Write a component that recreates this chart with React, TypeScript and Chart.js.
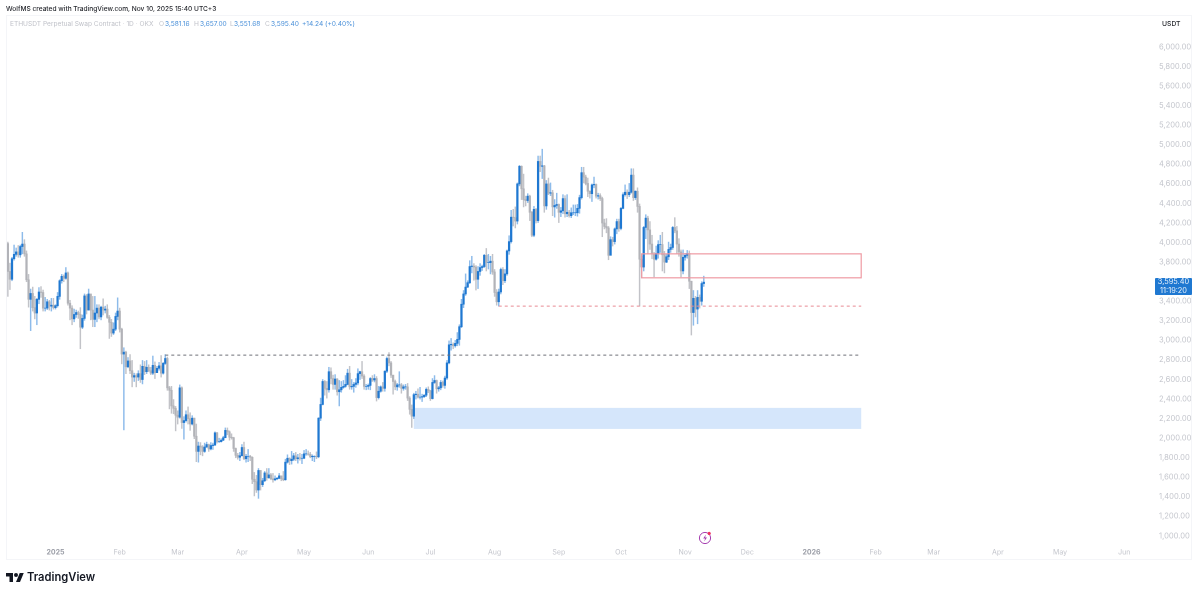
import React, { useEffect, useRef } from "react";
import { Chart, registerables } from "chart.js";

Chart.register(...registerables);

// Daily candles from 9 Dec 2024 (day -23, counted from 1 Jan 2025) to 10 Nov 2025
const firstDay = -23;
const firstOpen = 3990;
const closes = [
  3705,3625,3835,3880,3905,3875,3960,3985,3885,3620,3420,3480,3335,3280,3420,3495,3490,3330,3330,3395,3350,3360,3335,
  3355,3450,3610,3655,3635,3690,3380,3330,3220,3265,3285,3265,3135,3225,3455,3310,3475,3310,3215,3280,3330,3240,3340,3310,3320,3235,3185,3075,3115,3245,3300,
  3115,2860,2880,2730,2790,2690,2625,2640,2625,2660,2600,2735,2680,2725,2690,2665,2745,2670,2715,2740,2665,2765,2815,2515,2490,2330,2305,2235,
  2215,2515,2160,2180,2240,2200,2145,2205,2020,1865,1920,1910,1865,1910,1935,1890,1925,1930,2055,1965,1965,1980,2005,2080,2065,2010,2005,1895,1825,1805,1820,
  1905,1790,1815,1815,1805,1580,1555,1470,1670,1525,1565,1645,1595,1625,1585,1575,1585,1590,1615,1585,1575,1755,1795,1770,1785,1820,1790,1800,1795,1795,
  1840,1840,1835,1810,1815,1815,1810,2205,2345,2580,2510,2495,2680,2610,2550,2605,2475,2495,2520,2530,2550,2665,2525,2530,2550,2565,2660,2680,2635,2530,2530,
  2540,2610,2595,2610,2415,2480,2525,2510,2685,2815,2770,2645,2580,2525,2545,2545,2510,2525,2525,2410,2295,2225,2445,2450,2420,2420,2425,2440,2500,2485,
  2405,2570,2590,2505,2515,2570,2540,2615,2770,2955,2960,2945,2970,3010,3140,3370,3475,3545,3590,3755,3760,3750,3625,3705,3745,3755,3870,3795,3795,3810,3700,
  3490,3395,3495,3725,3610,3680,3915,4010,4260,4255,4220,4600,4780,4550,4440,4430,4475,4310,4075,4340,4225,4830,4780,4785,4375,4600,4505,4510,4365,4380,4390,
  4310,4325,4450,4295,4310,4275,4305,4305,4305,4350,4460,4715,4670,4605,4525,4500,4590,4595,4475,4480,4450,4200,4165,4150,3870,4030,4010,4140,4215,4145,
  4350,4490,4515,4490,4515,4690,4460,4525,4370,3830,3750,4155,4250,4130,3985,3885,3830,3890,3980,3980,3875,3800,3855,3930,3950,4155,4120,3985,3905,3710,3850,
  3870,3890,3605,3285,3430,3320,3440,3400,3581.16,3595.4,
];
const highs = [
  4005,3790,3850,3975,3945,3970,3975,4105,4030,3915,3675,3525,3545,3450,3430,3540,3550,3515,3440,3420,3410,3430,3430,
  3365,3490,3620,3675,3670,3745,3700,3410,3355,3320,3310,3300,3335,3260,3475,3470,3525,3450,3450,3450,3365,3365,3350,3425,3350,3365,3255,3215,3180,3280,3435,
  3330,3125,2925,2890,2825,2855,2795,2665,2660,2690,2750,2795,2785,2795,2750,2725,2840,2780,2735,2775,2845,2775,2855,2830,2530,2530,2395,2325,
  2280,2545,2525,2220,2280,2320,2260,2230,2205,2145,1960,1955,1925,1950,1960,1940,1955,1950,2065,2060,2000,1995,2020,2105,2105,2075,2045,2010,1900,1845,1855,
  1935,1960,1835,1885,1825,1810,1650,1620,1690,1670,1590,1660,1690,1690,1640,1640,1615,1600,1640,1615,1660,1785,1830,1800,1865,1845,1855,1835,1845,1835,
  1875,1885,1870,1855,1830,1820,1860,2210,2410,2600,2590,2580,2725,2720,2645,2650,2610,2590,2580,2590,2640,2705,2735,2600,2570,2610,2710,2685,2785,2650,2550,
  2555,2620,2640,2650,2630,2530,2535,2570,2690,2830,2875,2785,2620,2595,2560,2680,2560,2545,2550,2560,2425,2340,2460,2480,2505,2520,2450,2445,2515,2525,
  2490,2610,2640,2595,2530,2590,2585,2635,2795,2995,3020,2975,3000,3080,3160,3420,3510,3680,3610,3815,3860,3785,3765,3755,3785,3770,3880,3940,3880,3860,3880,
  3725,3520,3525,3740,3745,3725,3925,4070,4330,4340,4365,4610,4790,4785,4700,4475,4500,4485,4320,4370,4350,4885,4885,4955,4790,4635,4660,4610,4535,4440,4505,
  4395,4360,4490,4480,4490,4330,4355,4385,4385,4390,4485,4770,4770,4690,4660,4530,4600,4670,4600,4505,4500,4465,4240,4245,4165,4060,4055,4150,4240,4240,
  4360,4510,4590,4540,4605,4755,4755,4530,4560,4395,3860,4165,4285,4270,4215,4075,3900,3965,4020,4075,4105,3910,3885,4005,3985,4165,4255,4165,4040,3925,3925,
  3890,3920,3915,3605,3510,3450,3510,3465,3600,3657,
];
const lows = [
  3450,3520,3610,3820,3860,3850,3850,3885,3860,3600,3340,3100,3300,3220,3160,3375,3440,3300,3300,3315,3310,3300,3320,
  3320,3340,3420,3585,3600,3625,3360,3210,3160,3190,3235,3225,2915,3120,3205,3270,3310,3210,3140,3140,3190,3220,3210,3260,3280,3225,3020,3040,3060,3100,3210,
  3085,2760,2085,2660,2720,2660,2525,2580,2525,2590,2570,2555,2650,2660,2680,2650,2650,2610,2670,2695,2625,2655,2755,2490,2300,2255,2250,2075,
  2145,2205,2100,1990,2165,2145,2080,2135,1995,1760,1755,1830,1820,1855,1905,1865,1880,1885,1925,1950,1955,1960,1975,2005,2035,1980,1990,1865,1800,1785,1770,
  1820,1780,1755,1760,1770,1535,1410,1445,1385,1470,1505,1555,1570,1590,1575,1550,1565,1575,1585,1565,1565,1570,1745,1730,1735,1770,1770,1745,1775,1740,
  1790,1825,1825,1800,1770,1760,1790,1800,2180,2340,2440,2410,2470,2555,2500,2500,2440,2330,2470,2510,2520,2545,2500,2500,2470,2520,2545,2600,2610,2500,2495,
  2500,2495,2580,2575,2380,2400,2470,2480,2480,2670,2740,2620,2450,2495,2490,2520,2460,2490,2500,2385,2245,2110,2200,2400,2410,2400,2375,2415,2425,2465,
  2385,2400,2560,2460,2480,2495,2520,2510,2600,2760,2900,2915,2930,2945,2950,3130,3335,3460,3540,3580,3690,3615,3515,3530,3665,3715,3745,3710,3730,3680,3675,
  3450,3360,3350,3475,3570,3590,3665,3880,3995,4170,4150,4190,4580,4440,4365,4375,4410,4225,4060,4060,4200,4205,4725,4655,4310,4340,4490,4480,4275,4260,4350,
  4205,4265,4295,4260,4265,4260,4255,4285,4275,4270,4300,4445,4610,4590,4470,4455,4420,4560,4455,4445,4430,4060,4140,4100,3825,3875,3965,3985,4090,4115,
  4130,4345,4475,4450,4470,4505,4430,4440,4310,3350,3640,3710,4040,3885,3930,3835,3650,3820,3840,3900,3710,3690,3795,3825,3900,3930,4100,3890,3860,3650,3680,
  3820,3840,3530,3055,3155,3240,3170,3330,3360,3551.68,
];

const priceTicks = [1000,1200,1400,1600,1800,2000,2200,2400,2600,2800,3000,3200,3400,3600,3800,4000,4200,4400,4600,4800,5000,5200,5400,5600,5800,6000];
const monthDays = [0,31,59,90,120,151,181,212,243,273,304,334,365,396,424,455,485,516];
const monthLabels = ["2025","Feb","Mar","Apr","May","Jun","Jul","Aug","Sep","Oct","Nov","Dec","2026","Feb","Mar","Apr","May","Jun"];

const blackLevel = { price: 2850, from: 53, to: 389 };
const redLevel = { price: 3350, from: 214, to: 389 };
const redBox = { top: 3885, bottom: 3640, from: 283, to: 389 };
const blueBox = { top: 2310, bottom: 2095, from: 173, to: 389 };

const xMin = -23.9;
const xMax = 529.4;
const yMin = 918.2;
const yMax = 6327.2;

const UP = "#1f78d1";
const UP_WICK = "#8dbbea";
const DOWN = "#b2b3b8";
const DOWN_WICK = "#c2c3c8";
const FONT = "Inter, 'Noto Sans', sans-serif";

export default function App() {
  const ref = useRef<HTMLCanvasElement | null>(null);

  useEffect(() => {
    document.body.style.margin = "0";
    document.body.style.background = "#fff";
    const opens = closes.map((_, i) => (i === 0 ? firstOpen : closes[i - 1]));
    const isUp = closes.map((c, i) => c >= opens[i]);
    const zones = {
      id: "zones",
      beforeDatasetsDraw(chart: any) {
        const { ctx, scales } = chart;
        const x = scales.x, y = scales.y;
        ctx.save();
        ctx.fillStyle = "#d5e6fb";
        ctx.fillRect(
          x.getPixelForValue(blueBox.from),
          y.getPixelForValue(blueBox.top),
          x.getPixelForValue(blueBox.to) - x.getPixelForValue(blueBox.from),
          y.getPixelForValue(blueBox.bottom) - y.getPixelForValue(blueBox.top)
        );
        ctx.restore();
      },
      afterDatasetsDraw(chart: any) {
        const { ctx, scales } = chart;
        const x = scales.x, y = scales.y;
        ctx.save();
        ctx.strokeStyle = "#ef9aa3";
        ctx.lineWidth = 1.2;
        ctx.strokeRect(
          x.getPixelForValue(redBox.from),
          y.getPixelForValue(redBox.top),
          x.getPixelForValue(redBox.to) - x.getPixelForValue(redBox.from),
          y.getPixelForValue(redBox.bottom) - y.getPixelForValue(redBox.top)
        );
        ctx.restore();
      },
    };
    const chart = new Chart(ref.current as HTMLCanvasElement, {
      type: "bar",
      plugins: [zones],
      data: {
        datasets: [
          {
            type: "line",
            data: [{ x: blackLevel.from, y: blackLevel.price }, { x: blackLevel.to, y: blackLevel.price }],
            borderColor: "#6f7178",
            borderWidth: 1,
            borderDash: [3, 3],
            pointRadius: 0,
            order: 0,
          },
          {
            type: "line",
            data: [{ x: redLevel.from, y: redLevel.price }, { x: redLevel.to, y: redLevel.price }],
            borderColor: "#e88a93",
            borderWidth: 1,
            borderDash: [3, 3],
            pointRadius: 0,
            order: 0,
          },
          {
            data: closes.map((_, i) => ({ x: firstDay + i, y: [Math.min(opens[i], closes[i]), Math.max(opens[i], closes[i])] })),
            backgroundColor: isUp.map((u) => (u ? UP : DOWN)),
            barThickness: 1.6,
            grouped: false,
            borderWidth: 0,
            order: 1,
          },
          {
            data: closes.map((_, i) => ({ x: firstDay + i, y: [lows[i], highs[i]] })),
            backgroundColor: isUp.map((u) => (u ? UP_WICK : DOWN_WICK)),
            barThickness: 0.8,
            grouped: false,
            borderWidth: 0,
            order: 2,
          },
        ],
      } as any,
      options: {
        animation: false,
        responsive: false,
        devicePixelRatio: 2,
        layout: { padding: { left: 6, top: 15, right: 0, bottom: 0 } },
        plugins: { legend: { display: false }, tooltip: { enabled: false } },
        scales: {
          x: {
            type: "linear",
            offset: false,
            min: xMin,
            max: xMax,
            grid: { display: false, drawTicks: false, offset: false },
            border: { display: false },
            afterBuildTicks: (s: any) => { s.ticks = monthDays.map((v) => ({ value: v })); },
            afterFit: (s: any) => { s.height = 50; },
            ticks: {
              autoSkip: false,
              maxRotation: 0,
              padding: 4,
              color: (c: any) => (/^20/.test(monthLabels[c.index]) ? "#9a9da6" : "#c3c5cc"),
              font: (c: any) => ({ family: FONT, size: 7, weight: /^20/.test(monthLabels[c.index]) ? "700" : "400" }),
              callback: (_: any, i: number) => monthLabels[i],
            },
          },
          y: {
            type: "linear",
            position: "right",
            min: yMin,
            max: yMax,
            grid: { display: false, drawTicks: false },
            border: { display: false },
            afterBuildTicks: (s: any) => { s.ticks = priceTicks.map((v) => ({ value: v })); },
            afterFit: (s: any) => { s.width = 48; },
            ticks: {
              autoSkip: false,
              padding: 7,
              crossAlign: "near",
              color: "#c3c5cc",
              font: { family: FONT, size: 7.6 },
              callback: (v: any) => Number(v).toLocaleString("en-US", { minimumFractionDigits: 2 }),
            },
          },
        },
      },
    } as any);
    return () => chart.destroy();
  }, []);

  const abs = (left: number, top: number, color: string, extra: any = {}) => ({
    position: "absolute" as const, left, top, color, fontFamily: FONT, fontSize: 6.6, lineHeight: "10px", whiteSpace: "nowrap" as const, ...extra,
  });
  const BLUE = "#4a90d9";
  const GREY = "#c0c2c9";

  return (
    <div style={{ position: "absolute", left: 0, top: 0, width: 1200, height: 594, overflow: "hidden", background: "#fff" }}>
      <canvas ref={ref} width={1200} height={594} style={{ position: "absolute", left: 0, top: 0, width: 1200, height: 594, display: "block" }} />
      <div style={{ position: "absolute", left: 6, top: 15, width: 1186, height: 545, border: "1px solid #f4f5f8", boxSizing: "border-box", pointerEvents: "none" }} />
      <div style={abs(6, 4, "#26282e", { fontWeight: 500 })}>WolfMS created with TradingView.com, Nov 10, 2025 15:40 UTC+3</div>
      <div style={abs(10, 19, GREY)}>ETHUSDT Perpetual Swap Contract · 1D · OKX</div>
      <div style={abs(159, 19, GREY)}>O</div>
      <div style={abs(165, 19, BLUE)}>3,581.16</div>
      <div style={abs(194, 19, GREY)}>H</div>
      <div style={abs(200, 19, BLUE)}>3,657.00</div>
      <div style={abs(230, 19, GREY)}>L</div>
      <div style={abs(234, 19, BLUE)}>3,551.68</div>
      <div style={abs(265, 19, GREY)}>C</div>
      <div style={abs(271, 19, BLUE)}>3,595.40</div>
      <div style={abs(302, 19, BLUE)}>+14.24 (+0.40%)</div>
      <div style={abs(1162, 19, "#26282e", { fontSize: 6.8, fontWeight: 500 })}>USDT</div>
      <div style={{ position: "absolute", left: 1155, top: 278, width: 37, height: 17, background: "#1f78d1", borderRadius: 1, color: "#e8f2fc", fontFamily: FONT, fontSize: 7.4, lineHeight: "8.5px", textAlign: "center" }}>
        3,595.40<br />11:19:20
      </div>
      <svg style={{ position: "absolute", left: 697, top: 530 }} width="17" height="15" viewBox="0 0 17 15">
        <circle cx="8" cy="8" r="5.6" fill="none" stroke="#a63fb0" strokeWidth="1" />
        <path d="M8.9 4.6 6.2 8.5h1.9L7.2 11.4 10 7.4H8.1z" fill="#a63fb0" />
        <circle cx="12.2" cy="3.4" r="1.6" fill="#ee2f5b" />
      </svg>
      <svg style={{ position: "absolute", left: 6, top: 571 }} width="18" height="14" viewBox="0 0 36 28">
        <path d="M14 22H7V11H0V4h14v18zM28 22h-8l7.5-18h8L28 22z" fill="#131722" />
        <circle cx="20" cy="8" r="4" fill="#131722" />
      </svg>
      <div style={abs(27, 569, "#131722", { fontSize: 11.2, lineHeight: "16px", fontWeight: 600 })}>TradingView</div>
    </div>
  );
}
